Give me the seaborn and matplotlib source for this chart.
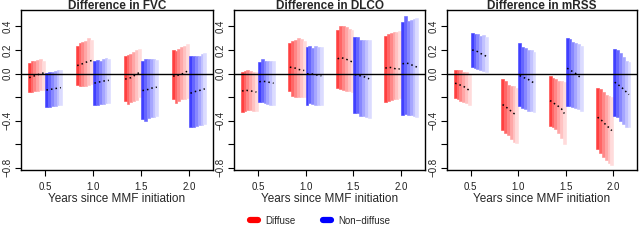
import numpy as np
import pandas as pd
import matplotlib
matplotlib.use("Agg")
import matplotlib.pyplot as plt
from matplotlib.lines import Line2D
import seaborn as sns

# --------------------------------------------------------------
# DATA (6 bars per group)
# --------------------------------------------------------------
times = [0.5, 1.0, 1.5, 2.0]
titles = ["Difference in FVC", "Difference in DLCO", "Difference in mRSS"]
groups = ["Diffuse", "Non\u2212diffuse"]

fvc_diff_lo = [[-0.16, -0.16, -0.145, -0.145, -0.14, -0.14],
               [-0.096, -0.11, -0.11, -0.105, -0.094, -0.088],
               [-0.23, -0.258, -0.244, -0.23, -0.224, -0.2],
               [-0.218, -0.252, -0.23, -0.218, -0.213, -0.207]]
fvc_diff_hi = [[0.088, 0.105, 0.105, 0.116, 0.125, 0.11],
               [0.23, 0.26, 0.265, 0.28, 0.30, 0.285],
               [0.148, 0.159, 0.162, 0.182, 0.2, 0.21],
               [0.196, 0.19, 0.21, 0.224, 0.238, 0.252]]
fvc_diff_mid = [[-0.035, -0.027, -0.018, -0.01, -0.002, 0.005],
                [0.068, 0.075, 0.085, 0.095, 0.105, 0.11],
                [-0.048, -0.04, -0.035, -0.02, -0.005, 0.01],
                [-0.02, -0.025, -0.01, -0.005, 0.01, 0.02]]
fvc_non_lo = [[-0.287, -0.287, -0.28, -0.275, -0.27, -0.265],
              [-0.267, -0.264, -0.258, -0.258, -0.252, -0.247],
              [-0.386, -0.4, -0.377, -0.372, -0.366, -0.357],
              [-0.457, -0.451, -0.445, -0.44, -0.434, -0.428]]
fvc_non_hi = [[0.006, 0.014, 0.017, 0.023, 0.028, 0.034],
              [0.11, 0.116, 0.11, 0.122, 0.133, 0.125],
              [0.105, 0.125, 0.12, 0.12, 0.122, 0.116],
              [0.153, 0.153, 0.15, 0.145, 0.167, 0.173]]
fvc_non_mid = [[-0.14, -0.136, -0.132, -0.128, -0.124, -0.12],
               [-0.082, -0.075, -0.07, -0.065, -0.06, -0.058],
               [-0.145, -0.14, -0.135, -0.125, -0.12, -0.116],
               [-0.167, -0.16, -0.15, -0.145, -0.138, -0.13]]

dlco_diff_lo = [[-0.323, -0.315, -0.31, -0.31, -0.315, -0.32],
                [-0.15, -0.187, -0.196, -0.2, -0.2, -0.2],
                [-0.122, -0.13, -0.139, -0.145, -0.15, -0.159],
                [-0.244, -0.23, -0.224, -0.218, -0.216, -0.207]]
dlco_diff_hi = [[0.011, 0.02, 0.026, 0.02, 0.017, 0.011],
                [0.258, 0.28, 0.286, 0.303, 0.295, 0.28],
                [0.372, 0.408, 0.4, 0.394, 0.38, 0.366],
                [0.315, 0.338, 0.346, 0.349, 0.349, 0.36]]
dlco_diff_mid = [[-0.15, -0.14, -0.145, -0.148, -0.152, -0.158],
                 [0.054, 0.05, 0.045, 0.035, 0.03, 0.026],
                 [0.125, 0.135, 0.13, 0.122, 0.11, 0.1],
                 [0.045, 0.055, 0.05, 0.045, 0.035, 0.04]]
dlco_non_lo = [[-0.244, -0.244, -0.25, -0.258, -0.264, -0.264],
               [-0.264, -0.252, -0.258, -0.264, -0.267, -0.267],
               [-0.338, -0.338, -0.357, -0.357, -0.366, -0.377],
               [-0.349, -0.343, -0.349, -0.355, -0.36, -0.366]]
dlco_non_hi = [[0.096, 0.122, 0.105, 0.105, 0.105, 0.105],
               [0.224, 0.235, 0.218, 0.23, 0.224, 0.224],
               [0.31, 0.31, 0.287, 0.287, 0.287, 0.287],
               [0.437, 0.488, 0.45, 0.456, 0.462, 0.468]]
dlco_non_mid = [[-0.07, -0.065, -0.068, -0.072, -0.078, -0.082],
                [-0.003, 0.0, -0.005, -0.01, -0.015, -0.02],
                [-0.01, -0.012, -0.02, -0.025, -0.035, -0.045],
                [0.082, 0.09, 0.085, 0.075, 0.065, 0.055]]

mrss_diff_lo = [[-0.21, -0.218, -0.23, -0.238, -0.252, -0.264],
                [-0.48, -0.508, -0.52, -0.556, -0.585, -0.593],
                [-0.443, -0.457, -0.47, -0.502, -0.547, -0.598],
                [-0.64, -0.678, -0.706, -0.734, -0.763, -0.78]]
mrss_diff_hi = [[0.034, 0.034, 0.026, 0.017, 0.009, -0.003],
                [-0.05, -0.06, -0.094, -0.11, -0.11, -0.122],
                [-0.017, -0.037, -0.048, -0.06, -0.065, -0.074],
                [-0.122, -0.13, -0.16, -0.18, -0.187, -0.2]]
mrss_diff_mid = [[-0.082, -0.09, -0.1, -0.11, -0.125, -0.145],
                 [-0.264, -0.28, -0.3, -0.32, -0.34, -0.355],
                 [-0.23, -0.245, -0.265, -0.28, -0.3, -0.34],
                 [-0.372, -0.39, -0.41, -0.44, -0.46, -0.485]]
mrss_non_lo = [[0.054, 0.045, 0.04, 0.026, 0.02, 0.011],
               [-0.272, -0.29, -0.3, -0.315, -0.32, -0.33],
               [-0.272, -0.28, -0.287, -0.292, -0.3, -0.315],
               [-0.357, -0.372, -0.4, -0.428, -0.451, -0.457]]
mrss_non_hi = [[0.346, 0.34, 0.338, 0.323, 0.326, 0.31],
               [0.26, 0.224, 0.216, 0.2, 0.196, 0.18],
               [0.3, 0.29, 0.267, 0.258, 0.247, 0.238],
               [0.21, 0.196, 0.173, 0.139, 0.11, 0.096]]
mrss_non_mid = [[0.2, 0.195, 0.185, 0.17, 0.16, 0.145],
                [-0.017, -0.03, -0.04, -0.05, -0.065, -0.08],
                [0.045, 0.03, 0.015, 0.0, -0.02, -0.045],
                [-0.074, -0.09, -0.11, -0.13, -0.155, -0.179]]

panels = [
    (fvc_diff_lo, fvc_diff_hi, fvc_diff_mid, fvc_non_lo, fvc_non_hi, fvc_non_mid),
    (dlco_diff_lo, dlco_diff_hi, dlco_diff_mid, dlco_non_lo, dlco_non_hi, dlco_non_mid),
    (mrss_diff_lo, mrss_diff_hi, mrss_diff_mid, mrss_non_lo, mrss_non_hi, mrss_non_mid),
]

# --------------------------------------------------------------
# Style
# --------------------------------------------------------------
sns.set_style("white")
plt.rcParams["font.family"] = ["Liberation Sans", "DejaVu Sans"]

base_cols = {"Diffuse": np.array([1.0, 0.0, 0.0]),
             "Non\u2212diffuse": np.array([0.0, 0.0, 1.0])}
strength = [0.75, 0.6, 0.47, 0.35, 0.24, 0.14]
bar_w = 0.03

fig = plt.figure(figsize=(6.4, 2.4), dpi=100)
lefts = [21 / 640, 234 / 640, 447 / 640]
widths = [192 / 640, 191 / 640, 190 / 640]

for p, (title, data) in enumerate(zip(titles, panels)):
    ax = fig.add_axes([lefts[p], 70 / 240, widths[p], 160 / 240])
    rows = []
    for g, grp in enumerate(groups):
        lo, hi, mid = data[3 * g], data[3 * g + 1], data[3 * g + 2]
        start = -0.18 if g == 0 else 0.0
        for t_i, t in enumerate(times):
            for k in range(6):
                x = t + start + bar_w * (k + 0.5)
                col = 1 - strength[k] * (1 - base_cols[grp])
                ax.bar(x, hi[t_i][k] - lo[t_i][k], bottom=lo[t_i][k],
                       width=bar_w, color=col, edgecolor=col, linewidth=0.4)
                rows.append({"x": x, "mid": mid[t_i][k], "seg": f"{grp}_{t}"})
    df = pd.DataFrame(rows)
    sns.lineplot(data=df, x="x", y="mid", units="seg", estimator=None,
                 color="black", linestyle=(0, (1, 2)), linewidth=1.1, ax=ax)

    ax.axhline(0, color="black", linewidth=1)
    ax.set_xlim(0.25, 2.25)
    ax.set_ylim(-0.82, 0.54)
    ax.set_xticks(times)
    ax.set_xticklabels(["0.5", "1.0", "1.5", "2.0"], fontsize=7, color="#222222")
    ax.set_yticks([-0.8, -0.6, -0.4, -0.2, 0.0, 0.2, 0.4])
    ax.set_yticklabels(["\u22120.8", "", "\u22120.4", "", "0.0", "0.2", "0.4"],
                       fontsize=7, rotation=90, va="center", color="#222222")
    ax.tick_params(axis="both", direction="out", length=4, width=0.8,
                   color="black", left=True, bottom=True, pad=2)
    ax.tick_params(axis="x", pad=5)
    ax.set_xlabel("Years since MMF initiation", fontsize=8.5, labelpad=0)
    ax.set_ylabel("")
    ax.set_title(title, fontsize=8.5, fontweight="bold", pad=1)
    for sp in ax.spines.values():
        sp.set_visible(True)
        sp.set_color("black")
        sp.set_linewidth(1)

handles = [Line2D([0], [0], color="red", lw=4.5, solid_capstyle="round"),
           Line2D([0], [0], color="blue", lw=4.5, solid_capstyle="round")]
fig.legend(handles, groups, loc="center", bbox_to_anchor=(0.5, 0.08), ncol=2,
           frameon=False, fontsize=7, handlelength=0.9, columnspacing=2.8,
           handletextpad=0.7)

fig.savefig("out.png", dpi=100)
